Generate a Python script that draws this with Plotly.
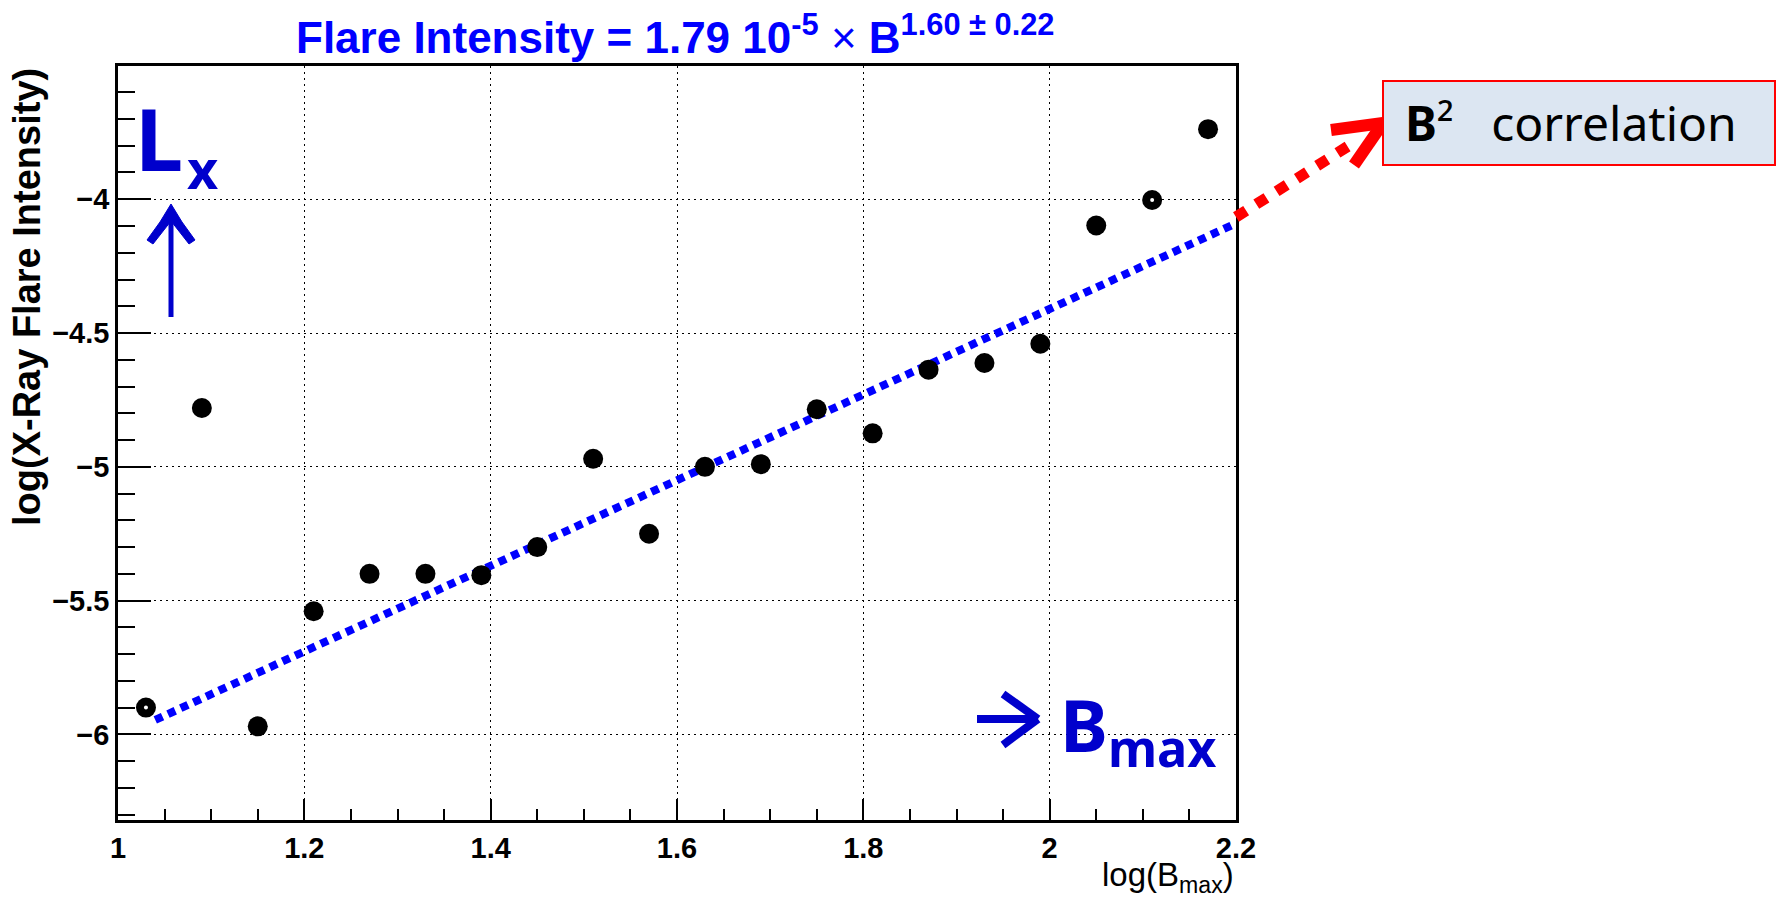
import plotly.graph_objects as go

# ---- data: log(B_max) vs log(X-ray flare intensity) ----
log_bmax = [1.03, 1.09, 1.15, 1.21, 1.27, 1.33, 1.39, 1.45, 1.51, 1.57,
            1.63, 1.69, 1.75, 1.81, 1.87, 1.93, 1.99, 2.05, 2.11, 2.17]
log_flux = [-5.90, -4.78, -5.97, -5.54, -5.40, -5.40, -5.405, -5.30, -4.97, -5.25,
            -5.00, -4.99, -4.785, -4.875, -4.637, -4.612, -4.54, -4.098, -4.003, -3.738]
ring_points = [0, 18]          # markers rendered with a tiny open centre

# straight-line fit in log-log space
fit_slope = 1.60
fit_intercept = -7.61
fit_x = [1.04, 2.2]
fit_y = [fit_intercept + fit_slope * v for v in fit_x]

x_range = [1.0, 2.2]
y_range = [-6.32, -3.502]

# ---- canvas geometry (pixels) ----
FIG_W, FIG_H = 1776, 907
M_L, M_R, M_T, M_B = 118, 540, 66, 87
PLOT_W = FIG_W - M_L - M_R
PLOT_H = FIG_H - M_T - M_B


def px(x):
    return (x - M_L) / PLOT_W


def py(y):
    return (FIG_H - M_B - y) / PLOT_H


def path(points, close=False):
    s = "M " + " L ".join(f"{px(a):.5f},{py(b):.5f}" for a, b in points)
    return s + (" Z" if close else "")


BLUE = "#0000ff"
DARK_BLUE = "#0000cc"
RED = "#ff0000"

fig = go.Figure()

fig.add_trace(go.Scatter(
    x=fit_x, y=fit_y, mode="lines",
    line=dict(color=BLUE, width=8, dash="8px,6px"),
    hoverinfo="skip", showlegend=False,
))
fig.add_trace(go.Scatter(
    x=log_bmax, y=log_flux, mode="markers",
    marker=dict(color="black", size=20, line=dict(width=0)),
    showlegend=False,
))
fig.add_trace(go.Scatter(
    x=[log_bmax[i] for i in ring_points], y=[log_flux[i] for i in ring_points],
    mode="markers", marker=dict(color="white", size=4, line=dict(width=0)),
    hoverinfo="skip", showlegend=False,
))

tick_font = dict(family="Liberation Sans, Arial, sans-serif", size=29,
                 color="black", weight="bold")
grid_common = dict(showgrid=True, gridcolor="black", gridwidth=1.2,
                   griddash="2px,4px", showline=True, linecolor="black",
                   linewidth=2.5, mirror=True, zeroline=False,
                   ticks="inside", tickcolor="black", tickwidth=2,
                   tickfont=tick_font)

fig.update_xaxes(range=x_range, dtick=0.2, tick0=1.0, ticklen=21,
                 minor=dict(dtick=0.05, ticks="inside", ticklen=11,
                            tickcolor="black", tickwidth=2, showgrid=False),
                 **grid_common)
fig.update_yaxes(range=y_range, dtick=0.5, tick0=-4.0, ticklen=33,
                 minor=dict(dtick=0.1, ticks="inside", ticklen=17,
                            tickcolor="black", tickwidth=2, showgrid=False),
                 **grid_common)

shapes = [
    # red dotted continuation toward the callout
    dict(type="line", xref="paper", yref="paper",
         x0=px(1236), y0=py(217), x1=px(1350), y1=py(145),
         line=dict(color=RED, width=11, dash="12px,12px")),
    dict(type="line", xref="paper", yref="paper",
         x0=px(1331), y0=py(130), x1=px(1383), y1=py(123),
         line=dict(color=RED, width=12)),
    dict(type="line", xref="paper", yref="paper",
         x0=px(1354), y0=py(165), x1=px(1383), y1=py(123),
         line=dict(color=RED, width=12)),
    # callout box
    dict(type="rect", xref="paper", yref="paper",
         x0=px(1383), y0=py(81), x1=px(1775), y1=py(165),
         fillcolor="#dce6f2", line=dict(color=RED, width=2)),
    # up arrow next to L_x
    dict(type="line", xref="paper", yref="paper",
         x0=px(171), y0=py(317), x1=px(171), y1=py(212),
         line=dict(color=DARK_BLUE, width=5)),
    dict(type="path", xref="paper", yref="paper",
         path=path([(171, 204), (160, 222), (147, 240), (153, 244),
                    (171, 221), (189, 244), (195, 240), (182, 222)], close=True),
         fillcolor=DARK_BLUE, line=dict(color=DARK_BLUE, width=1)),
    # right arrow in front of B_max
    dict(type="line", xref="paper", yref="paper",
         x0=px(977), y0=py(719), x1=px(1033), y1=py(719),
         line=dict(color=DARK_BLUE, width=8)),
    dict(type="line", xref="paper", yref="paper",
         x0=px(1003), y0=py(694), x1=px(1038), y1=py(719),
         line=dict(color=DARK_BLUE, width=8)),
    dict(type="line", xref="paper", yref="paper",
         x0=px(1003), y0=py(745), x1=px(1038), y1=py(719),
         line=dict(color=DARK_BLUE, width=8)),
]

hand_font = "Noto Sans, DejaVu Sans, sans-serif"
annotations = [
    dict(text="<b>Flare Intensity = 1.79 10<sup>-5</sup></b> × <b>B<sup>1.60 ± 0.22</sup></b>",
         x=px(675), y=py(64), xanchor="center", yanchor="bottom",
         font=dict(family="Liberation Sans Narrow, Liberation Sans, Arial", size=44, color=BLUE)),
    dict(text="<b>log(X-Ray Flare Intensity)</b>", textangle=-90,
         x=px(27), y=py(66), xanchor="center", yanchor="top",
         font=dict(family="Liberation Sans, Arial", size=38, color="black")),
    dict(text="log(B<sub>max</sub>)",
         x=px(1236), y=py(877), xanchor="right", yanchor="middle",
         font=dict(family="Liberation Sans Narrow, Liberation Sans, Arial", size=33, color="black")),
    dict(text="<b>L</b>", x=px(133), y=py(137), xanchor="left", yanchor="middle",
         font=dict(family=hand_font, size=86, color=DARK_BLUE)),
    dict(text="<b>x</b>", x=px(185), y=py(168), xanchor="left", yanchor="middle",
         font=dict(family=hand_font, size=54, color=DARK_BLUE)),
    dict(text="<b>B<sub>max</sub></b>", x=px(1058), y=py(728), xanchor="left", yanchor="middle",
         font=dict(family=hand_font, size=72, color=DARK_BLUE)),
    dict(text="<b>B</b>²   correlation", x=px(1403), y=py(122), xanchor="left", yanchor="middle",
         font=dict(family=hand_font, size=48, color="black")),
]
for a in annotations:
    a.update(xref="paper", yref="paper", showarrow=False)

fig.update_layout(
    width=FIG_W, height=FIG_H,
    margin=dict(l=M_L, r=M_R, t=M_T, b=M_B, autoexpand=False),
    paper_bgcolor="white", plot_bgcolor="white",
    showlegend=False,
    shapes=shapes, annotations=annotations,
)

fig.write_html("out.html")
